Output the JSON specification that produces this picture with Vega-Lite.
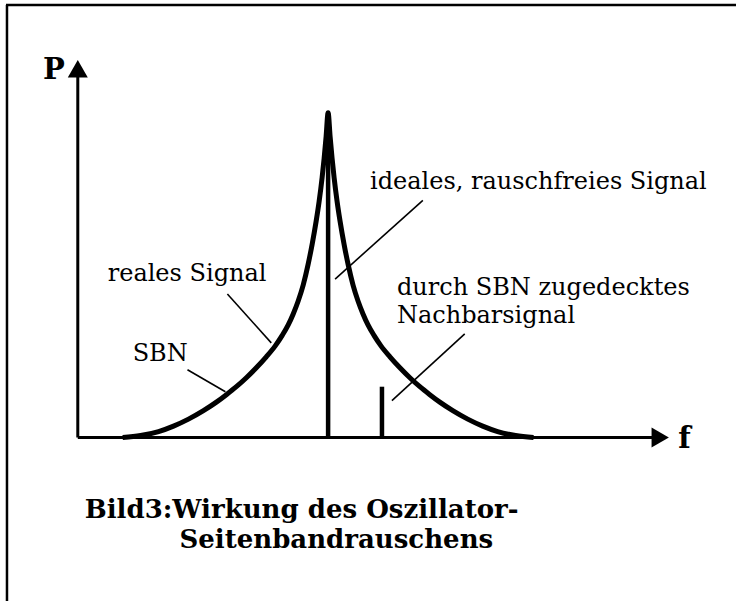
{
  "$schema": "https://vega.github.io/schema/vega-lite/v6.json",
  "width": 738,
  "height": 603,
  "autosize": {"type": "fit", "contains": "padding"},
  "padding": 0,
  "background": "white",
  "config": {"view": {"stroke": null}},
  "datasets": {
    "curve": [
      {"f": 123, "P": 0}, {"f": 141, "P": 2}, {"f": 159, "P": 6}, {"f": 174, "P": 11.5},
      {"f": 189, "P": 18.5}, {"f": 204, "P": 27}, {"f": 217, "P": 35.5}, {"f": 227, "P": 43},
      {"f": 237, "P": 51}, {"f": 247, "P": 60}, {"f": 257, "P": 70}, {"f": 267, "P": 81},
      {"f": 276, "P": 92}, {"f": 283, "P": 102.5}, {"f": 289, "P": 113}, {"f": 294, "P": 124},
      {"f": 299, "P": 137}, {"f": 304, "P": 153}, {"f": 309, "P": 174}, {"f": 313, "P": 194},
      {"f": 317, "P": 217}, {"f": 320, "P": 237}, {"f": 323, "P": 261}, {"f": 325, "P": 280},
      {"f": 327, "P": 302}, {"f": 329, "P": 326},
      {"f": 331, "P": 302}, {"f": 333, "P": 280}, {"f": 335, "P": 261}, {"f": 338, "P": 237},
      {"f": 341, "P": 217}, {"f": 345, "P": 194}, {"f": 349, "P": 174}, {"f": 354, "P": 153},
      {"f": 359, "P": 137}, {"f": 364, "P": 124}, {"f": 369, "P": 113}, {"f": 375, "P": 102.5},
      {"f": 382, "P": 92}, {"f": 391, "P": 81}, {"f": 401, "P": 70}, {"f": 411, "P": 60},
      {"f": 421, "P": 51}, {"f": 431, "P": 43}, {"f": 441, "P": 35.5}, {"f": 454, "P": 27},
      {"f": 469, "P": 18.5}, {"f": 484, "P": 11.5}, {"f": 499, "P": 6}, {"f": 517, "P": 2},
      {"f": 535, "P": 0}
    ],
    "frame": [
      {"f": 6, "P": 434, "f2": 738, "P2": 434},
      {"f": 7, "P": 434, "f2": 7, "P2": -164}
    ],
    "axes": [
      {"f": 78, "P": 0, "f2": 78, "P2": 362},
      {"f": 78, "P": 0, "f2": 656, "P2": 0}
    ],
    "signals": [
      {"f": 329, "P": 0, "f2": 329, "P2": 300},
      {"f": 383, "P": 0, "f2": 383, "P2": 51}
    ],
    "leaders": [
      {"f": 228, "P": 144, "f2": 272, "P2": 95},
      {"f": 188, "P": 68, "f2": 226, "P2": 46},
      {"f": 424, "P": 238, "f2": 336, "P2": 159},
      {"f": 466, "P": 104, "f2": 393, "P2": 37}
    ],
    "arrows": [
      {"axis": "P", "f": 78, "P": 370},
      {"axis": "f", "f": 662, "P": 0}
    ],
    "labels": [
      {"f": 371, "P": 249, "label": "ideales, rauschfreies Signal"},
      {"f": 108, "P": 157, "label": "reales Signal"},
      {"f": 133, "P": 77, "label": "SBN"},
      {"f": 398, "P": 143.5, "label": "durch SBN zugedecktes"},
      {"f": 398, "P": 114.5, "label": "Nachbarsignal"}
    ],
    "axislabels": [
      {"f": 43, "P": 360, "label": "P"},
      {"f": 680, "P": -10, "label": "f"}
    ],
    "title": [
      {"f": 85, "P": -81, "label": "Bild3:Wirkung des Oszillator-"},
      {"f": 180, "P": -111, "label": "Seitenbandrauschens"}
    ]
  },
  "encoding": {
    "x": {"field": "f", "type": "quantitative", "scale": {"domain": [0, 738], "nice": false, "zero": false}, "axis": null},
    "y": {"field": "P", "type": "quantitative", "scale": {"domain": [-164, 439], "nice": false, "zero": false}, "axis": null}
  },
  "layer": [
    {
      "data": {"name": "frame"},
      "mark": {"type": "rule", "color": "black", "strokeWidth": 2.5},
      "encoding": {"x2": {"field": "f2"}, "y2": {"field": "P2"}}
    },
    {
      "data": {"name": "axes"},
      "mark": {"type": "rule", "color": "black", "strokeWidth": 3},
      "encoding": {"x2": {"field": "f2"}, "y2": {"field": "P2"}}
    },
    {
      "data": {"name": "leaders"},
      "mark": {"type": "rule", "color": "black", "strokeWidth": 1.6},
      "encoding": {"x2": {"field": "f2"}, "y2": {"field": "P2"}}
    },
    {
      "data": {"name": "signals"},
      "mark": {"type": "rule", "color": "black", "strokeWidth": 4.5},
      "encoding": {"x2": {"field": "f2"}, "y2": {"field": "P2"}}
    },
    {
      "data": {"name": "curve"},
      "mark": {"type": "line", "color": "black", "strokeWidth": 5, "strokeJoin": "round", "interpolate": "monotone"},
      "encoding": {}
    },
    {
      "data": {"name": "arrows"},
      "transform": [{"filter": "datum.axis === 'P'"}],
      "mark": {"type": "point", "shape": "triangle-up", "filled": true, "size": 400, "color": "black", "opacity": 1, "strokeWidth": 0}
    },
    {
      "data": {"name": "arrows"},
      "transform": [{"filter": "datum.axis === 'f'"}],
      "mark": {"type": "point", "shape": "triangle-right", "filled": true, "size": 400, "color": "black", "opacity": 1, "strokeWidth": 0}
    },
    {
      "data": {"name": "labels"},
      "mark": {"type": "text", "align": "left", "baseline": "alphabetic", "font": "DejaVu Serif", "fontSize": 24, "color": "black"},
      "encoding": {"text": {"field": "label"}}
    },
    {
      "data": {"name": "axislabels"},
      "mark": {"type": "text", "align": "left", "baseline": "alphabetic", "font": "DejaVu Serif", "fontWeight": "bold", "fontSize": 29, "color": "black"},
      "encoding": {"text": {"field": "label"}}
    },
    {
      "data": {"name": "title"},
      "mark": {"type": "text", "align": "left", "baseline": "alphabetic", "font": "DejaVu Serif", "fontWeight": "bold", "fontSize": 26, "color": "black"},
      "encoding": {"text": {"field": "label"}}
    }
  ]
}
